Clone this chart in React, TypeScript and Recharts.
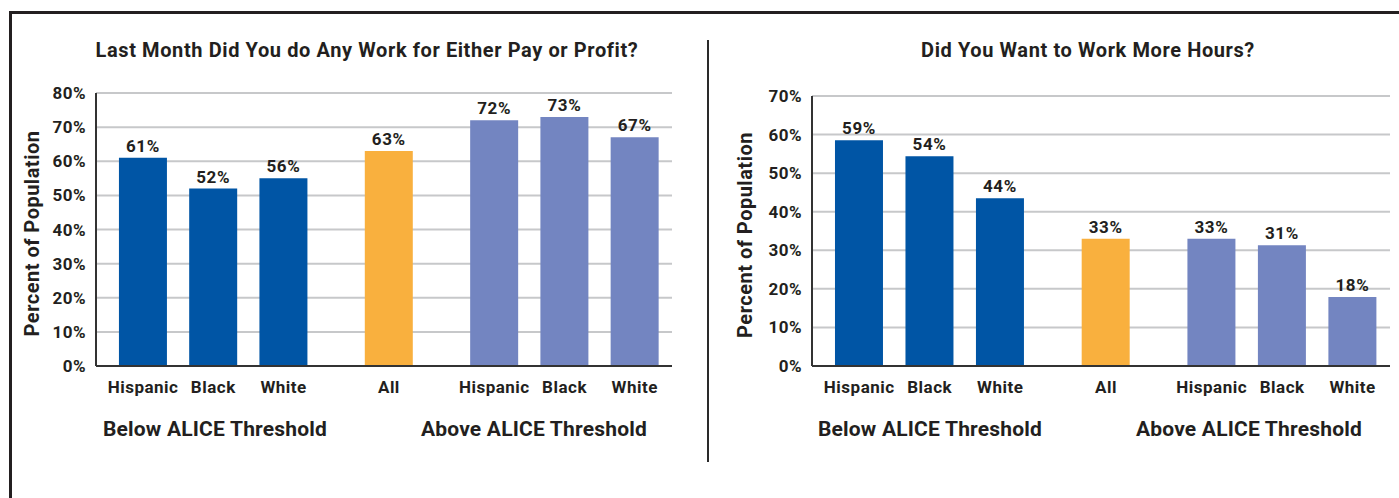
import React from "react";
import {
  BarChart,
  Bar,
  XAxis,
  YAxis,
  CartesianGrid,
  Cell,
  LabelList,
} from "recharts";

// x positions of the bars (groups are spaced by half a slot)
const slots = [0, 1, 2, 3.5, 5, 6, 7];
const categories = ["Hispanic", "Black", "White", "All", "Hispanic", "Black", "White"];
const groups = ["below", "below", "below", "all", "above", "above", "above"];

const workValues = [61, 52, 55, 63, 72, 73, 67];
const workLabels = ["61%", "52%", "56%", "63%", "72%", "73%", "67%"];
const workTicks = [0, 10, 20, 30, 40, 50, 60, 70, 80];

const hoursValues = [58.5, 54.4, 43.5, 33, 33, 31.3, 17.9];
const hoursLabels = ["59%", "54%", "44%", "33%", "33%", "31%", "18%"];
const hoursTicks = [0, 10, 20, 30, 40, 50, 60, 70];

const groupColors: Record<string, string> = {
  below: "#0055a5",
  all: "#f9b03e",
  above: "#7385c1",
};

const TEXT = "#231f20";
const FONT = "Roboto, 'Noto Sans', sans-serif";

const tickFont = {
  fill: TEXT,
  fontSize: 17,
  fontWeight: 700,
  fontFamily: FONT,
  letterSpacing: 0.5,
};

const buildRows = (values: number[], labels: string[]) =>
  slots.map((slot, i) => ({
    slot,
    name: categories[i],
    group: groups[i],
    value: values[i],
    label: labels[i],
  }));

interface PanelProps {
  values: number[];
  labels: string[];
  ticks: number[];
  marginLeft: number;
  marginTop: number;
  marginRight: number;
  width: number;
  labelOffset: number;
}

const Panel: React.FC<PanelProps> = ({
  values,
  labels,
  ticks,
  marginLeft,
  marginTop,
  marginRight,
  width,
  labelOffset,
}) => {
  const rows = buildRows(values, labels);
  return (
    <BarChart
      width={width}
      height={400}
      data={rows}
      margin={{ top: marginTop, right: marginRight, left: marginLeft, bottom: 4 }}
    >
      <CartesianGrid vertical={false} stroke="#c7c8ca" strokeWidth={2} />
      <XAxis
        dataKey="slot"
        type="number"
        domain={[-0.67, 7.53]}
        ticks={slots}
        interval={0}
        height={30}
        tickLine={false}
        tickMargin={9}
        axisLine={{ stroke: "#333", strokeWidth: 2 }}
        tickFormatter={(v: number) => categories[slots.indexOf(v)] ?? ""}
        tick={tickFont}
      />
      <YAxis
        type="number"
        domain={[ticks[0], ticks[ticks.length - 1]]}
        ticks={ticks}
        interval={0}
        width={76}
        tickLine={false}
        tickMargin={4}
        axisLine={{ stroke: "#333", strokeWidth: 2 }}
        tickFormatter={(v: number) => `${v}%`}
        tick={tickFont}
        label={{
          value: "Percent of Population",
          angle: -90,
          position: "insideLeft",
          offset: labelOffset,
          dy: 4,
          style: {
            textAnchor: "middle",
            fill: TEXT,
            fontSize: 20,
            fontWeight: 700,
            fontFamily: FONT,
            letterSpacing: 0.5,
          },
        }}
      />
      <Bar dataKey="value" barSize={48} isAnimationActive={false}>
        {rows.map((r, i) => (
          <Cell key={i} fill={groupColors[r.group]} />
        ))}
        <LabelList
          dataKey="label"
          position="top"
          offset={6}
          style={{
            fill: TEXT,
            fontSize: 17,
            fontWeight: 700,
            fontFamily: FONT,
            letterSpacing: 0.6,
          }}
        />
      </Bar>
    </BarChart>
  );
};

const textStyle: React.CSSProperties = {
  position: "absolute",
  fontFamily: FONT,
  fontWeight: 700,
  color: TEXT,
  whiteSpace: "nowrap",
  transform: "translate(-50%, -50%)",
};

export default function App() {
  return (
    <div
      style={{
        position: "absolute",
        left: 0,
        top: 0,
        width: 1399,
        height: 498,
        overflow: "hidden",
        background: "#fff",
      }}
    >
      {/* frame */}
      <div
        style={{
          position: "absolute",
          left: 9,
          top: 11,
          width: 1400,
          height: 500,
          borderTop: `3px solid ${TEXT}`,
          borderLeft: `3px solid ${TEXT}`,
        }}
      />
      {/* divider */}
      <div
        style={{
          position: "absolute",
          left: 707,
          top: 40,
          width: 2,
          height: 422,
          background: "#2a2a2a",
        }}
      />

      <div style={{ ...textStyle, left: 367, top: 50, fontSize: 20, letterSpacing: 0.6 }}>
        Last Month Did You do Any Work for Either Pay or Profit?
      </div>
      <div style={{ ...textStyle, left: 1088, top: 50, fontSize: 20, letterSpacing: 0.6 }}>
        Did You Want to Work More Hours?
      </div>

      <div style={{ position: "absolute", left: 0, top: 0 }}>
        <Panel
          values={workValues}
          labels={workLabels}
          ticks={workTicks}
          marginLeft={20}
          marginTop={93}
          marginRight={18}
          width={690}
          labelOffset={12}
        />
      </div>
      <div style={{ position: "absolute", left: 700, top: 0 }}>
        <Panel
          values={hoursValues}
          labels={hoursLabels}
          ticks={hoursTicks}
          marginLeft={36}
          marginTop={96}
          marginRight={9}
          width={699}
          labelOffset={9}
        />
      </div>

      <div style={{ ...textStyle, left: 215, top: 429, fontSize: 21, letterSpacing: 0.2 }}>
        Below ALICE Threshold
      </div>
      <div style={{ ...textStyle, left: 534, top: 429, fontSize: 21, letterSpacing: 0.2 }}>
        Above ALICE Threshold
      </div>
      <div style={{ ...textStyle, left: 930, top: 429, fontSize: 21, letterSpacing: 0.2 }}>
        Below ALICE Threshold
      </div>
      <div style={{ ...textStyle, left: 1249, top: 429, fontSize: 21, letterSpacing: 0.2 }}>
        Above ALICE Threshold
      </div>
    </div>
  );
}
